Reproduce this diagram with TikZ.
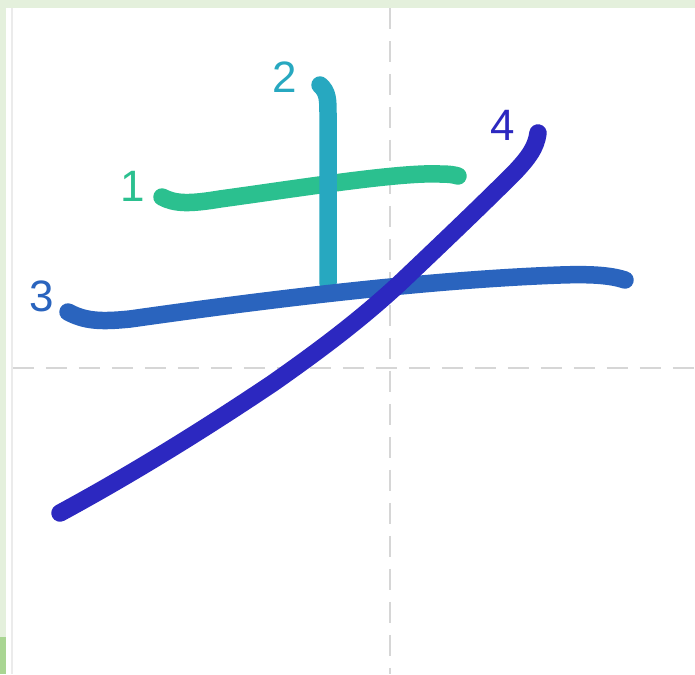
\documentclass[tikz,border=0pt]{standalone}
\usepackage{fontspec}
\setmainfont{Liberation Sans}
\usetikzlibrary{positioning}
\definecolor{strokeone}{HTML}{2BC08F}
\definecolor{stroketwo}{HTML}{27A8C0}
\definecolor{strokethree}{HTML}{2A64BE}
\definecolor{strokefour}{HTML}{2C28C0}
\definecolor{gridline}{HTML}{D6D6D6}
\definecolor{paleleaf}{HTML}{E4F0DC}
\definecolor{leaf}{HTML}{A9D592}

\begin{document}
\begin{tikzpicture}[
    x=0.02cm, y=-0.02cm,
    stroke/.style={line width=0.35cm,line cap=round,line join=round},
    num/.style={font=\fontsize{25}{30}\selectfont,inner sep=0pt},
    guide/.style={gridline,line width=0.05cm,dash pattern=on 0.42cm off 0.24cm}
  ]
    \useasboundingbox (0,0) rectangle (695,674);
    \fill[white] (0,0) rectangle (695,674);
    \fill[paleleaf] (0,0) rectangle (695,8);
    \fill[paleleaf] (0,0) rectangle (6,674);
    \fill[leaf] (0,637) rectangle (6,674);
    \fill[black!8] (11,8) rectangle (13,674);

    \draw[guide] (390,8) -- (390,674);
    \draw[guide] (13,368) -- (695,368);

    \draw[stroke,strokeone] (162,197) .. controls (175,204) and (190,204) .. (220,199)
      .. controls (300,188) and (400,172) .. (440,174)
      .. controls (450,174) and (455,175) .. (458,176);
    \draw[stroke,stroketwo] (320,85) .. controls (328,92) and (328,100) .. (328,115) -- (328,283);
    \draw[stroke,strokethree] (68,312) .. controls (85,321) and (100,322) .. (130,319)
      .. controls (250,302) and (420,280) .. (560,275)
      .. controls (590,274) and (610,275) .. (625,280);
    \draw[stroke,strokefour] (538,133) .. controls (536,148) and (528,158) .. (515,172)
      .. controls (480,207) and (440,245) .. (400,283)
      .. controls (360,320) and (320,350) .. (273,383)
      .. controls (200,432) and (130,475) .. (60,513);

    \node[num,text=strokeone]   (one)   at (133,186) {1};
    \node[num,text=stroketwo]   (two)   at (285,77)  {2};
    \node[num,text=strokethree] (three) at (42,296)  {3};
    \node[num,text=strokefour]  (four)  at (503,125) {4};
  \end{tikzpicture}
\end{document}
